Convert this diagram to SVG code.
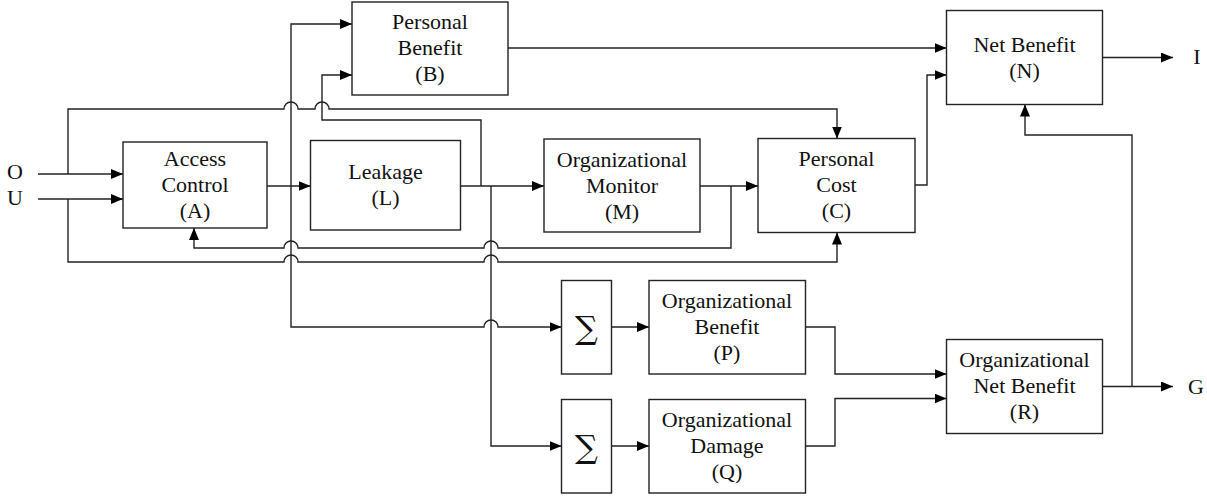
<svg xmlns="http://www.w3.org/2000/svg" width="1207" height="497" viewBox="0 0 1207 497">
<defs>
<marker id="arr" markerWidth="12" markerHeight="10" refX="12" refY="5" orient="auto" markerUnits="userSpaceOnUse">
<path d="M0,0 L12,5 L0,10 Z" fill="#000"/>
</marker>
<style>
.box{fill:#fff;stroke:#222;stroke-width:1.4}
.ln{fill:none;stroke:#222;stroke-width:1.4}
.ar{fill:none;stroke:#222;stroke-width:1.4;marker-end:url(#arr)}
text{font-family:"Liberation Serif","Times New Roman",serif;font-size:22px;fill:#111;text-anchor:middle}
.sig{font-family:"DejaVu Serif","Liberation Serif",serif;font-size:32px}
</style>
</defs>
<rect width="1207" height="497" fill="#fff"/>
<g id="connectors">
<path class="ar" d="M38,174 H123"/>
<path class="ar" d="M38,199 H123"/>
<path class="ar" d="M68,174 V109 H284 A7,7 0 0 1 298,109 H315 A7,7 0 0 1 329,109 H837 V138.5"/>
<path class="ar" d="M68,199 V262 H284 A7,7 0 0 1 298,262 H484 A7,7 0 0 1 498,262 H837 V232.5"/>
<path class="ar" d="M267,186 H310.5"/>
<path class="ar" d="M291,186 V24 H352"/>
<path class="ar" d="M291,186 V327 H484 A7,7 0 0 1 498,327 H561.5"/>
<path class="ar" d="M461,186 H544"/>
<path class="ar" d="M481,186 V120 H322 V75 H352"/>
<path class="ar" d="M491,186 V446 H561.5"/>
<path class="ar" d="M700,186 H758"/>
<path class="ar" d="M731,186 V248 H498 A7,7 0 0 0 484,248 H298 A7,7 0 0 0 284,248 H194 V228"/>
<path class="ar" d="M915,185 H927 V75 H946.5"/>
<path class="ar" d="M508,48 H946.5"/>
<path class="ar" d="M1102.5,57.5 H1173"/>
<path class="ar" d="M1102.5,386.5 H1173"/>
<path class="ar" d="M1132,386.5 V135 H1025 V104.5"/>
<path class="ar" d="M611.5,327 H649"/>
<path class="ar" d="M611.5,446 H649"/>
<path class="ar" d="M805.5,327 H835 V374 H946.5"/>
<path class="ar" d="M805.5,446 H835 V398.5 H946.5"/>
</g>
<g id="labels">
<text x="15" y="179">O</text>
<text x="15" y="204.5">U</text>
<text x="1197" y="63.5">I</text>
<text x="1196" y="393.5">G</text>
</g>
<g id="A">
<rect class="box" x="123" y="142" width="144" height="86"/>
<text x="195" y="166">Access</text>
<text x="195" y="192">Control</text>
<text x="195" y="218">(A)</text>
</g>
<g id="B">
<rect class="box" x="352" y="2" width="156" height="93"/>
<text x="430" y="29">Personal</text>
<text x="430" y="55">Benefit</text>
<text x="430" y="81">(B)</text>
</g>
<g id="L">
<rect class="box" x="310.5" y="140.5" width="150" height="89.5"/>
<text x="385.5" y="178.5">Leakage</text>
<text x="385.5" y="204.5">(L)</text>
</g>
<g id="M">
<rect class="box" x="544" y="139" width="156" height="93"/>
<text x="622" y="166.5">Organizational</text>
<text x="622" y="192.5">Monitor</text>
<text x="622" y="218.5">(M)</text>
</g>
<g id="C">
<rect class="box" x="758" y="138.5" width="157" height="94"/>
<text x="836.5" y="166">Personal</text>
<text x="836.5" y="192">Cost</text>
<text x="836.5" y="218">(C)</text>
</g>
<g id="N">
<rect class="box" x="946.5" y="10.5" width="156" height="94"/>
<text x="1024.5" y="51.5">Net Benefit</text>
<text x="1024.5" y="77.5">(N)</text>
</g>
<g id="S1">
<rect class="box" x="561.5" y="280.5" width="50" height="93.5"/>
<text class="sig" x="586.5" y="339">∑</text>
</g>
<g id="P">
<rect class="box" x="649" y="280.5" width="156.5" height="93.5"/>
<text x="727" y="307.5">Organizational</text>
<text x="727" y="333.5">Benefit</text>
<text x="727" y="359.5">(P)</text>
</g>
<g id="S2">
<rect class="box" x="561.5" y="399.5" width="50" height="93.5"/>
<text class="sig" x="586.5" y="458">∑</text>
</g>
<g id="Q">
<rect class="box" x="649" y="399.5" width="156.5" height="93.5"/>
<text x="727" y="426.5">Organizational</text>
<text x="727" y="452.5">Damage</text>
<text x="727" y="478.5">(Q)</text>
</g>
<g id="R">
<rect class="box" x="946.5" y="339.5" width="156" height="94"/>
<text x="1024.5" y="367">Organizational</text>
<text x="1024.5" y="393">Net Benefit</text>
<text x="1024.5" y="419">(R)</text>
</g>
</svg>
